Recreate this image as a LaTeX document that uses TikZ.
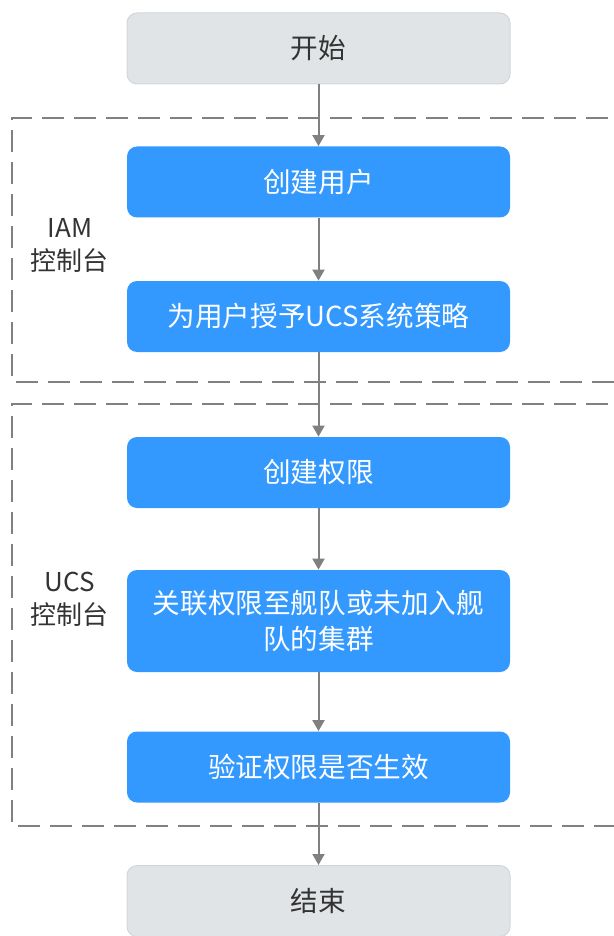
\documentclass[tikz,border=0pt]{standalone}
\usepackage{fontspec}
\setmainfont{Noto Sans CJK SC}
\usetikzlibrary{arrows.meta}
\definecolor{stepblue}{HTML}{3399FF}
\definecolor{endgray}{HTML}{E1E4E6}
\definecolor{endline}{HTML}{D3D6D9}
\definecolor{linegray}{HTML}{808080}
\definecolor{textgray}{HTML}{333333}
\begin{document}
\begin{tikzpicture}
    [x=0.5pt,y=-0.5pt,
     box/.style={rounded corners=5pt,minimum width=191.5pt,minimum height=35.5pt,
        inner sep=2pt,align=center,font=\fontsize{13.8}{18}\selectfont},
     bluebox/.style={box,fill=stepblue,text=white},
     graybox/.style={box,fill=endgray,draw=endline,line width=0.5pt,text=textgray},
     zone/.style={draw=linegray,line width=1pt,dash pattern=on 11pt off 5pt},
     zonelabel/.style={text=textgray,align=center,font=\fontsize{13}{16.5}\selectfont},
     flow/.style={draw=linegray,line width=1pt,-{Triangle[length=5.5pt,width=6pt]}}]
    \useasboundingbox (0,0) rectangle (614,936);
    % dashed zones (open on the right)
    \draw[zone] (640,118) -- (12,118) -- (12,382) -- (640,382);
    \draw[zone] (640,404) -- (12,404) -- (12,826) -- (640,826);
    \node[zonelabel] (iam) at (70,245) {IAM\\控制台};
    \node[zonelabel] (ucs) at (70,599) {UCS\\控制台};
    % steps
    \node[graybox] (start) at (318.5,48.5) {开始};
    \node[bluebox] (user) at (318.5,182) {创建用户};
    \node[bluebox] (grant) at (318.5,316.5) {为用户授予UCS系统策略};
    \node[bluebox] (perm) at (318.5,472.5) {创建权限};
    \node[bluebox,minimum height=51pt] (bind) at (318.5,621) {关联权限至舰队或未加入舰\\队的集群};
    \node[bluebox] (check) at (318.5,767) {验证权限是否生效};
    \node[graybox] (finish) at (318.5,901) {结束};
    % connectors
    \draw[flow] (start) -- (user);
    \draw[flow] (user) -- (grant);
    \draw[flow] (grant) -- (perm);
    \draw[flow] (perm) -- (bind);
    \draw[flow] (bind) -- (check);
    \draw[flow] (check) -- (finish);
\end{tikzpicture}
\end{document}
